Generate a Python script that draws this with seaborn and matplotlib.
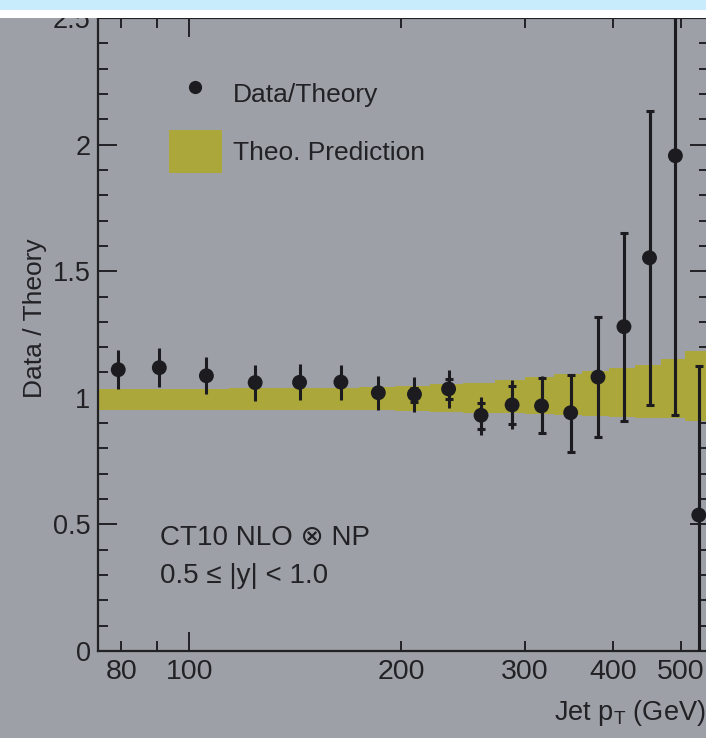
import numpy as np
import matplotlib
matplotlib.use("Agg")
import matplotlib.pyplot as plt
import seaborn as sns
import pandas as pd
from matplotlib.patches import Rectangle, Patch
from matplotlib.lines import Line2D
from matplotlib.ticker import FixedLocator, FixedFormatter, MultipleLocator, FormatStrFormatter

# ---------------- data ----------------
bin_edges = [74, 84, 97, 114, 133, 153, 174, 196, 220, 245, 272, 300, 330, 362, 395, 430, 468, 507, 548]
pt = [79.2, 90.6, 105.7, 124.0, 143.4, 164.2, 185.6, 208.9, 233.6, 259.8, 287.6, 316.7, 348.4, 381.0, 414.8, 451.0, 490.9, 530.0]
ratio = [1.111, 1.119, 1.087, 1.060, 1.061, 1.062, 1.020, 1.014, 1.035, 0.931, 0.972, 0.968, 0.941, 1.082, 1.281, 1.553, 1.956, 0.537]
tot_hi = [1.189, 1.195, 1.162, 1.130, 1.132, 1.130, 1.086, 1.083, 1.110, 1.004, 1.070, 1.086, 1.092, 1.319, 1.652, 2.133, 2.600, 1.127]
tot_lo = [1.033, 1.041, 1.014, 0.987, 0.991, 0.991, 0.952, 0.943, 0.958, 0.853, 0.875, 0.862, 0.787, 0.846, 0.910, 0.972, 0.932, -0.050]
cap_hi = [np.nan] * 7 + [1.040, 1.073, 0.978, 1.047, 1.080, 1.092, 1.319, 1.652, 2.133, 2.600, 1.127]
cap_lo = [np.nan] * 7 + [0.985, 0.997, 0.878, 0.897, 0.862, 0.787, 0.846, 0.910, 0.972, 0.932, -0.050]
band_hi = [1.036, 1.036, 1.036, 1.037, 1.039, 1.040, 1.041, 1.046, 1.053, 1.060, 1.070, 1.083, 1.094, 1.107, 1.116, 1.130, 1.152, 1.186]
band_lo = [0.951, 0.951, 0.951, 0.951, 0.951, 0.951, 0.950, 0.947, 0.945, 0.941, 0.940, 0.935, 0.932, 0.928, 0.925, 0.922, 0.919, 0.909]

x_major = [100]
x_minor = [80, 90, 200, 300, 400, 500]
x_minor_labels = ["80", "", "200", "300", "400", "500"]

legend_labels = ["Data/Theory", "Theo. Prediction"]
note_lines = ["CT10 NLO \u2297 NP", "0.5 \u2264 |y| < 1.0"]

# ---------------- style ----------------
sns.set_theme(style="ticks")
plt.rcParams["font.family"] = ["Liberation Sans", "DejaVu Sans"]
plt.rcParams["mathtext.fontset"] = "custom"
plt.rcParams["mathtext.rm"] = "Liberation Sans"
plt.rcParams["mathtext.it"] = "Liberation Sans"

BG = "#9da0a6"
INK = "#222226"
BAND = "#aba73a"
PT_COL = "#1c1c20"

W, H = 706, 738
fig = plt.figure(figsize=(W / 100, H / 100), dpi=100, facecolor=BG)
L, R, T, B = 97.5, 709.0, 18.0, 651.0
ax = fig.add_axes([L / W, 1 - B / H, (R - L) / W, (B - T) / H])
ax.set_facecolor(BG)

df = pd.DataFrame({"pt": pt, "ratio": ratio})

# theory band (step per bin)
ax.fill_between(bin_edges, band_hi + [band_hi[-1]], band_lo + [band_lo[-1]],
                step="post", color=BAND, lw=0, zorder=1)

# total error bars (no caps)
r = np.array(ratio)
ax.errorbar(pt, ratio, yerr=[r - np.array(tot_lo), np.array(tot_hi) - r],
            fmt="none", ecolor=PT_COL, elinewidth=2.2, capsize=0, zorder=3)
# capped error bars
ch = np.array(cap_hi)
cl = np.array(cap_lo)
mask = ~np.isnan(ch)
ax.errorbar(np.array(pt)[mask], r[mask], yerr=[r[mask] - cl[mask], ch[mask] - r[mask]],
            fmt="none", ecolor=PT_COL, elinewidth=2.2, capsize=3.0, capthick=2.2, zorder=3)

sns.scatterplot(data=df, x="pt", y="ratio", ax=ax, color=PT_COL, s=115,
                edgecolor="none", zorder=5, legend=False)

# axes
ax.set_xscale("log")
ax.set_xlim(74, 548)
ax.set_ylim(0, 2.5)
ax.xaxis.set_major_locator(FixedLocator(x_major))
ax.xaxis.set_major_formatter(FixedFormatter([str(v) for v in x_major]))
ax.xaxis.set_minor_locator(FixedLocator(x_minor))
ax.xaxis.set_minor_formatter(FixedFormatter(x_minor_labels))
ax.yaxis.set_major_locator(MultipleLocator(0.5))
ax.yaxis.set_minor_locator(MultipleLocator(0.1))
ax.yaxis.set_major_formatter(FormatStrFormatter("%g"))

ax.tick_params(which="both", direction="in", top=True, right=True, colors=INK,
               labelcolor=INK, width=1.4)
ax.tick_params(which="major", length=14)
ax.tick_params(which="minor", length=7)
ax.tick_params(axis="x", which="both", pad=6, labelsize=20.5)
ax.tick_params(axis="y", which="both", pad=5, labelsize=19.5)
for s in ax.spines.values():
    s.set_color(INK)
    s.set_linewidth(1.6)

ax.set_ylabel("Data / Theory", fontsize=19, color=INK, va="center")
ax.yaxis.set_label_coords((35 - L) / (R - L), (B - 318) / (B - T))
ax.set_xlabel(r"Jet p$_{\mathregular{T}}$ (GeV)", fontsize=19.5, color=INK, ha="right", va="top")
ax.xaxis.set_label_coords((706 - L) / (R - L), (B - 698) / (B - T))

# legend
handles = [Line2D([], [], marker="o", ls="none", color=PT_COL, markersize=8.5),
           Patch(facecolor=BAND, edgecolor="none")]
leg = ax.legend(handles, legend_labels, loc="upper left",
                bbox_to_anchor=((169 - L) / (R - L), (B - 72.5) / (B - T)),
                frameon=False, fontsize=19, handlelength=2.0, handleheight=2.13,
                handletextpad=0.42, labelspacing=0.55, borderpad=0, borderaxespad=0)
for t in leg.get_texts():
    t.set_color(INK)

# annotations
ax.text((160 - L) / (R - L), (B - 545) / (B - T), note_lines[0], transform=ax.transAxes,
        fontsize=20, color=INK, va="baseline", ha="left")
ax.text((160 - L) / (R - L), (B - 583) / (B - T), note_lines[1], transform=ax.transAxes,
        fontsize=20, color=INK, va="baseline", ha="left")

# top strips
fig.add_artist(Rectangle((0, 1 - 17.5 / H), 1, 17.5 / H, transform=fig.transFigure,
                         facecolor="white", edgecolor="none", zorder=20))
fig.add_artist(Rectangle((0, 1 - 9.5 / H), 1, 9.5 / H, transform=fig.transFigure,
                         facecolor="#c8ecfb", edgecolor="none", zorder=21))

fig.savefig("out.png", dpi=100, facecolor=BG)
